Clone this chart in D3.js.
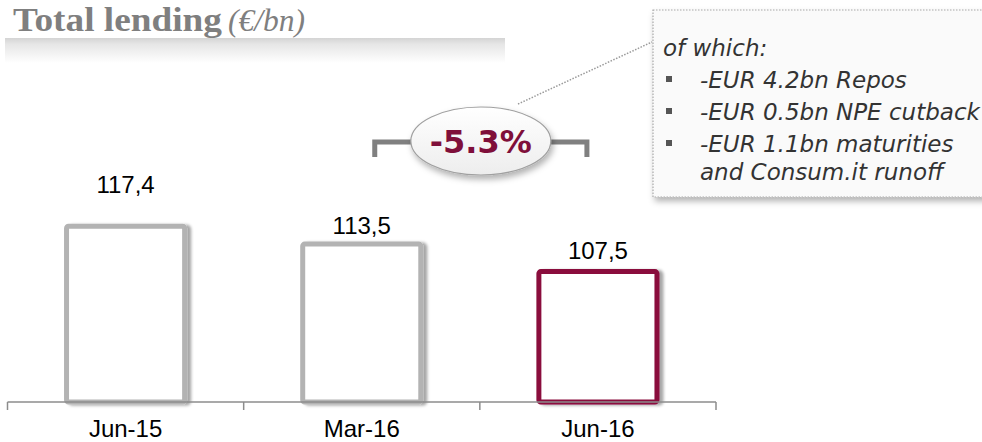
<!DOCTYPE html>
<html><head><meta charset="utf-8">
<script src="https://cdnjs.cloudflare.com/ajax/libs/d3/7.8.5/d3.min.js"></script>
<style>body{margin:0;background:#fff;}svg{display:block;}</style>
</head><body>
<svg id="c" width="982" height="442"></svg>
<script>
const categories = ["Jun-15", "Mar-16", "Jun-16"];
const values = [117.4, 113.5, 107.5];
const valueLabels = ["117,4", "113,5", "107,5"];
const changeLabel = "-5.3%";
const noteTitle = "of which:";
const noteItems = [["-EUR 4.2bn Repos"], ["-EUR 0.5bn NPE cutback"], ["-EUR 1.1bn maturities", "and Consum.it runoff"]];

const svg = d3.select("#c");
const defs = svg.append("defs");
const f = defs.append("filter").attr("id","sh").attr("x","-20%").attr("y","-20%").attr("width","150%").attr("height","150%");
f.append("feDropShadow").attr("dx",4).attr("dy",1).attr("stdDeviation",1.6).attr("flood-color","#000").attr("flood-opacity",0.35);
const f2 = defs.append("filter").attr("id","sh2").attr("x","-20%").attr("y","-20%").attr("width","150%").attr("height","160%");
f2.append("feDropShadow").attr("dx",2).attr("dy",4).attr("stdDeviation",3).attr("flood-color","#000").attr("flood-opacity",0.3);
const g1 = defs.append("linearGradient").attr("id","tg").attr("x1",0).attr("y1",0).attr("x2",0).attr("y2",1);
g1.append("stop").attr("offset","0").attr("stop-color","#d4d4d4");
g1.append("stop").attr("offset","0.25").attr("stop-color","#e6e6e6");
g1.append("stop").attr("offset","1").attr("stop-color","#ffffff");
const g2 = defs.append("linearGradient").attr("id","eg").attr("x1",0).attr("y1",0).attr("x2",0).attr("y2",1);
g2.append("stop").attr("offset","0").attr("stop-color","#ffffff");
g2.append("stop").attr("offset","1").attr("stop-color","#ededed");

// Title
svg.append("rect").attr("x",5).attr("y",38).attr("width",500).attr("height",25).attr("fill","url(#tg)");
const tf = "'Liberation Serif','Times New Roman',serif";
svg.append("text").attr("x",13).attr("y",31).attr("fill","#7f7f7f").attr("font-family",tf)
  .attr("font-weight","bold").attr("font-size",34).attr("textLength",209).attr("lengthAdjust","spacingAndGlyphs").text("Total lending");
svg.append("text").attr("x",228).attr("y",31).attr("fill","#7f7f7f").attr("font-family",tf)
  .attr("font-style","italic").attr("font-size",31).attr("textLength",77).attr("lengthAdjust","spacingAndGlyphs").text("(€/bn)");

// Scales
const x = d3.scaleBand().domain(categories).range([7.5, 716]).paddingInner(0.5).paddingOuter(0.25);
const y = d3.scaleLinear().domain([79, 130]).range([402, 168.6]);

// Bars
const colors = ["#b3b3b3", "#b3b3b3", "#8a0c3d"];
svg.selectAll("rect.bar").data(values).join("rect").attr("class","bar")
  .attr("x",(d,i)=>x(categories[i])).attr("y",d=>y(d))
  .attr("width",x.bandwidth()).attr("height",d=>y.range()[0]-y(d))
  .attr("rx",2).attr("fill","#fff").attr("stroke",(d,i)=>colors[i]).attr("stroke-width",5)
  .attr("filter","url(#sh)");

// Axis
const axis = svg.append("g").attr("transform","translate(0,402)");
axis.append("line").attr("x1",7.5).attr("x2",716).attr("stroke","#8c8c8c").attr("stroke-width",1.5);
const bounds = [7.5].concat(categories.map(c=>x(c)+x.bandwidth()+x.step()*x.paddingInner()/2));
bounds[bounds.length-1] = 716;
axis.selectAll("line.tk").data(bounds).join("line").attr("class","tk")
  .attr("x1",d=>d).attr("x2",d=>d).attr("y1",0).attr("y2",8).attr("stroke","#8c8c8c").attr("stroke-width",1.5);
axis.selectAll("text").data(categories).join("text")
  .attr("x",d=>x(d)+x.bandwidth()/2).attr("y",35).attr("text-anchor","middle")
  .attr("font-family","'Liberation Sans',Arial,sans-serif").attr("font-size",24).attr("fill","#000").text(d=>d);

// Value labels
const labelGap = [33, 10, 13];
svg.selectAll("text.val").data(values).join("text").attr("class","val")
  .attr("x",(d,i)=>x(categories[i])+x.bandwidth()/2).attr("y",(d,i)=>y(d)-labelGap[i])
  .attr("text-anchor","middle").attr("font-family","'Liberation Sans',Arial,sans-serif")
  .attr("font-size",24).attr("fill","#000").text((d,i)=>valueLabels[i]);

// Bracket
const bx1 = x("Mar-16")+x.bandwidth()/2+13, bx2 = x("Jun-16")+x.bandwidth()/2-11;
const cx = (bx1+bx2)/2;
svg.append("path").attr("d",`M${bx1},157 V142 H${cx-20}`).attr("fill","none").attr("stroke","#808080").attr("stroke-width",5);
svg.append("path").attr("d",`M${bx2},157 V142 H${cx+20}`).attr("fill","none").attr("stroke","#808080").attr("stroke-width",5);

// Leader line
svg.append("line").attr("x1",518).attr("y1",104).attr("x2",652).attr("y2",42).attr("stroke","#9a9a9a").attr("stroke-width",1.5).attr("stroke-dasharray","1.5,1.5");

// Ellipse
svg.append("ellipse").attr("cx",cx).attr("cy",141).attr("rx",70).attr("ry",34)
  .attr("fill","url(#eg)").attr("stroke","#a0a0a0").attr("stroke-width",1.2).attr("filter","url(#sh2)");
svg.append("text").attr("x",cx).attr("y",153).attr("text-anchor","middle")
  .attr("font-family","'DejaVu Sans',Verdana,sans-serif").attr("font-weight","bold").attr("font-size",32)
  .attr("fill","#7f0f3a").text(changeLabel);

// Note box
svg.append("rect").attr("x",653).attr("y",10).attr("width",340).attr("height",187)
  .attr("fill","#fafafa").attr("stroke","#a8a8a8").attr("stroke-width",1.2).attr("stroke-dasharray","1.5,1.5")
  .attr("filter","url(#sh2)");
const nf = "'DejaVu Sans',Verdana,sans-serif";
svg.append("text").attr("x",663).attr("y",56).attr("font-family",nf).attr("font-style","italic").attr("font-size",23).attr("fill","#333").text(noteTitle);
let yy = 88;
noteItems.forEach(lines=>{
  svg.append("rect").attr("x",666).attr("y",yy-12).attr("width",6).attr("height",6).attr("fill","#555");
  lines.forEach((ln,j)=>{
    svg.append("text").attr("x",700).attr("y",yy).attr("font-family",nf).attr("font-style","italic").attr("font-size",23).attr("fill","#333").text(ln);
    yy += (j < lines.length-1) ? 28 : 32;
  });
});
</script>
</body></html>
